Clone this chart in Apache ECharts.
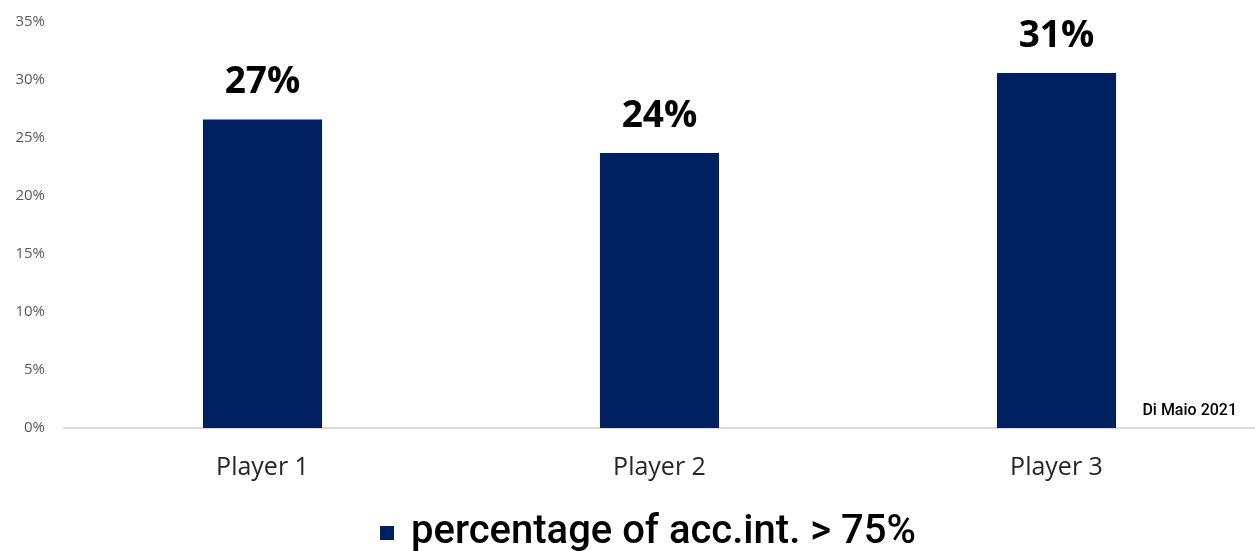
<!DOCTYPE html>
<html>
<head>
<meta charset="utf-8">
<script src="https://cdn.jsdelivr.net/npm/echarts@6/dist/echarts.min.js"></script>
<style>
  html, body { margin: 0; padding: 0; background: #fff; }
</style>
</head>
<body>
<div id="myChart" style="width:1255px;height:551px;"></div>
<script>
var players = ['Player 1', 'Player 2', 'Player 3']
var shares = [26.6, 23.7, 30.6]
var shareLabels = ['27%', '24%', '31%']
var seriesName = 'percentage of acc.int. > 75%'

var myChart = echarts.init(document.getElementById('myChart'))
myChart.setOption({
  animation: false,
  grid: {
    left: 64,
    right: 0,
    top: 22,
    bottom: 123
  },
  legend: {
    bottom: -7,
    left: 375,
    icon: 'rect',
    itemWidth: 14,
    itemHeight: 14,
    textStyle: {
      fontFamily: 'Roboto',
      fontWeight: 500,
      fontSize: 40,
      color: '#000',
      padding: [0, 0, 0, 12]
    },
    data: [seriesName]
  },
  xAxis: {
    type: 'category',
    data: players,
    axisTick: { show: false },
    axisLine: { lineStyle: { color: '#d9d9d9', width: 2 } },
    axisLabel: {
      margin: 27,
      fontFamily: 'Open Sans',
      fontSize: 25,
      color: '#262626'
    }
  },
  yAxis: {
    type: 'value',
    min: 0,
    max: 35,
    interval: 5,
    splitLine: { show: false },
    axisLine: { show: false },
    axisTick: { show: false },
    axisLabel: {
      margin: 19,
      fontFamily: 'Open Sans',
      fontSize: 15,
      color: '#595959',
      formatter: '{value}%'
    }
  },
  graphic: [
    {
      type: 'text',
      right: 18,
      top: 403,
      style: {
        text: 'Di Maio 2021',
        fontFamily: 'Roboto',
        fontWeight: 500,
        fontSize: 16,
        fill: '#000'
      }
    }
  ],
  series: [
    {
      name: seriesName,
      type: 'bar',
      barWidth: '30%',
      data: shares,
      itemStyle: { color: '#002060' },
      label: {
        show: true,
        position: 'top',
        distance: 18,
        fontFamily: 'Open Sans',
        fontWeight: 'bold',
        fontSize: 37,
        color: '#000',
        formatter: function (p) { return shareLabels[p.dataIndex] }
      }
    }
  ]
})
</script>
</body>
</html>
